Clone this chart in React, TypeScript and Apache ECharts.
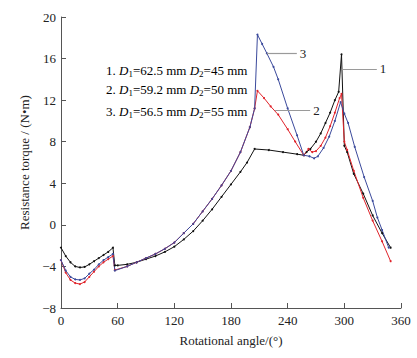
import React, { useEffect, useRef } from "react";
import * as echarts from "echarts";

const xTicks = [0, 60, 120, 180, 240, 300, 360];
const yTicks = [-8, -4, 0, 4, 8, 12, 16, 20];

const angle1 = [0, 5, 10, 15, 20, 25, 30, 35, 40, 45, 50, 55, 57, 60, 70, 80, 90, 100, 110, 120, 130, 140, 150, 160, 170, 180, 190, 197, 205, 220, 235, 250, 257, 260, 264, 270, 275, 280, 285, 290, 294, 297, 300, 303, 310, 320, 330, 340, 349];
const torque1 = [-2.2, -3.0, -3.6, -4.0, -4.1, -4.05, -3.8, -3.5, -3.2, -2.9, -2.6, -2.2, -3.9, -3.9, -3.8, -3.6, -3.3, -3.0, -2.6, -2.1, -1.4, -0.6, 0.4, 1.5, 2.7, 3.9, 5.1, 6.0, 7.3, 7.2, 7.0, 6.8, 6.7, 7.0, 7.3, 8.0, 8.8, 9.8, 10.8, 12.0, 12.8, 16.4, 7.6, 7.0, 4.9, 3.0, 0.9, -0.8, -2.2];

const angle2 = [0, 5, 10, 15, 20, 25, 30, 35, 40, 45, 50, 55, 57, 70, 80, 90, 100, 110, 120, 130, 140, 150, 160, 170, 180, 190, 200, 205, 208, 215, 222, 230, 240, 248, 257, 262, 266, 270, 275, 280, 285, 290, 295, 297, 300, 303, 310, 320, 330, 340, 349];
const torque2 = [-3.4, -4.6, -5.3, -5.6, -5.7, -5.5, -5.0, -4.5, -4.0, -3.6, -3.3, -3.0, -4.35, -4.0, -3.6, -3.2, -2.8, -2.3, -1.7, -0.8, 0.1, 1.3, 2.5, 3.8, 5.2, 7.0, 9.4, 11.2, 12.9, 12.2, 11.4, 10.6, 9.2, 8.0, 6.7, 7.3, 7.0, 7.1, 7.6, 8.4, 9.5, 10.8, 12.2, 12.6, 8.0, 7.2, 5.2, 2.6, 0.4, -1.6, -3.5];

const angle3 = [0, 5, 10, 15, 20, 25, 30, 35, 40, 45, 50, 55, 57, 70, 80, 90, 100, 110, 120, 130, 140, 150, 160, 170, 180, 190, 200, 205, 208, 213, 218, 225, 230, 240, 250, 257, 263, 268, 272, 278, 284, 290, 296, 300, 304, 311, 321, 330, 335, 340, 347];
const torque3 = [-3.4, -4.4, -5.0, -5.25, -5.3, -5.15, -4.7, -4.3, -3.8, -3.4, -3.1, -2.8, -4.4, -4.0, -3.6, -3.2, -2.8, -2.3, -1.7, -0.8, 0.1, 1.3, 2.5, 3.8, 5.2, 7.0, 9.4, 11.2, 18.3, 17.4, 16.5, 15.2, 14.0, 11.2, 8.6, 6.7, 6.6, 6.4, 6.6, 7.4, 8.5, 10.0, 11.8, 10.7, 9.8, 7.5, 4.6, 2.3, 0.7, -0.5, -2.2];

const leader1 = [[297.3, 15.0], [334.4, 15.0]];
const leader2 = [[226.7, 11.0], [263.8, 11.0]];
const leader3 = [[218, 16.5], [249.7, 16.5]];

const legendLines = [
  ["1", "62.5", "45"],
  ["2", "59.2", "50"],
  ["3", "56.5", "55"],
];

const FONT = "Liberation Serif";

function zip(xs: number[], ys: number[]) {
  return xs.map((x, i) => [x, ys[i]]);
}

function leader(pts: number[][], name: string) {
  return {
    silent: true,
    symbol: ["none", "none"],
    lineStyle: { color: "#9a9a9a", width: 1.2, type: "solid" },
    label: {
      show: true,
      position: "end",
      formatter: name,
      fontFamily: FONT,
      fontSize: 13,
      color: "#222",
      distance: 3,
    },
    data: [[{ coord: pts[0] }, { coord: pts[1] }]],
  };
}

export default function App() {
  const ref = useRef<HTMLDivElement>(null);
  useEffect(() => {
    document.body.style.margin = "0";
    const chart = echarts.init(ref.current!, null, { renderer: "svg" });
    const mk = (name: string, xs: number[], ys: number[], color: string, ml: any) => ({
      name,
      type: "line",
      data: zip(xs, ys),
      symbol: "circle",
      symbolSize: 2,
      showSymbol: true,
      lineStyle: { color, width: 1 },
      itemStyle: { color },
      markLine: ml,
      z: 3,
    });
    const rich = {
      n: { fontFamily: FONT, fontSize: 13, color: "#222" },
      i: { fontFamily: FONT, fontSize: 13, fontStyle: "italic", color: "#222" },
      s: { fontFamily: FONT, fontSize: 9, color: "#222", padding: [6, 0, 0, 0] },
    };
    const textTops = [64, 83, 105];
    chart.setOption({
      animation: false,
      grid: { left: 61, right: 16, top: 17, bottom: 50 },
      xAxis: {
        type: "value",
        min: xTicks[0],
        max: xTicks[xTicks.length - 1],
        interval: 60,
        name: "Rotational angle/(°)",
        nameLocation: "middle",
        nameGap: 26,
        nameTextStyle: { fontFamily: FONT, fontSize: 13, color: "#222" },
        axisLine: { onZero: false, lineStyle: { color: "#555", width: 1 } },
        axisTick: { inside: true, length: 5, lineStyle: { color: "#555" } },
        axisLabel: { fontFamily: FONT, fontSize: 13, color: "#222", margin: 6 },
        splitLine: { show: false },
      },
      yAxis: {
        type: "value",
        min: yTicks[0],
        max: yTicks[yTicks.length - 1],
        interval: 4,
        name: "Resistance torque / (N•m)",
        nameLocation: "middle",
        nameGap: 27,
        nameTextStyle: { fontFamily: FONT, fontSize: 13, color: "#222" },
        axisLine: { show: true, onZero: false, lineStyle: { color: "#555", width: 1 } },
        axisTick: { show: true, inside: true, length: 5, lineStyle: { color: "#555" } },
        axisLabel: {
          fontFamily: FONT,
          fontSize: 13,
          color: "#222",
          margin: 5,
          formatter: (v: number) => (v < 0 ? "\u2212" + Math.abs(v) : String(v)),
        },
        splitLine: { show: false },
      },
      series: [
        mk("1", angle1, torque1, "#111111", leader(leader1, "1")),
        mk("2", angle2, torque2, "#e0242b", leader(leader2, "2")),
        mk("3", angle3, torque3, "#3b4a9c", leader(leader3, "3")),
      ],
      graphic: legendLines.map((l, k) => ({
        type: "text",
        left: 106,
        top: textTops[k],
        style: {
          text: `{n|${l[0]}. }{i|D}{s|1}{n|=${l[1]} mm }{i|D}{s|2}{n|=${l[2]} mm}`,
          rich,
        },
      })),
    });
    return () => chart.dispose();
  }, []);
  return <div ref={ref} style={{ width: 417, height: 358 }} />;
}
